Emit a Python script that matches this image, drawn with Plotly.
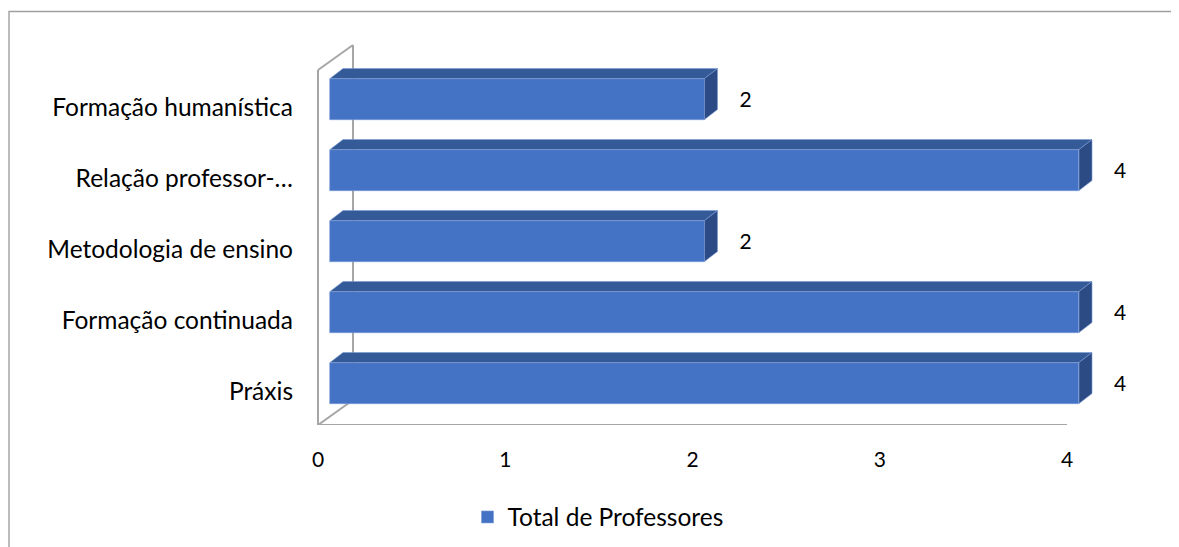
import plotly.graph_objects as go

# ---- data ----
categories = ["Práxis", "Formação continuada", "Metodologia de ensino",
              "Relação professor-…", "Formação humanística"]
values = [4, 4, 2, 4, 2]
series_name = "Total de Professores"
x_ticks = [0, 1, 2, 3, 4]

# ---- geometry (screen pixels -> data units) ----
OFF = 8                      # page body margin
W, H = 1179 - OFF, 547 - OFF
PX_PER_X = 187.25
PX_PER_Y = 71.0
x0_px = 318                  # value 0 at floor front (screen px)
plot_l, plot_r = 300, 1179   # screen px
plot_t, plot_b = 40, 425
cat0_px = 383

x_range = [(plot_l - x0_px) / PX_PER_X, (plot_r - x0_px) / PX_PER_X]
y_range = [-(plot_b - cat0_px) / PX_PER_Y, (cat0_px - plot_t) / PX_PER_Y]

front_dx = 12 / PX_PER_X
depth_dx = 13 / PX_PER_X
depth_dy = 10 / PX_PER_Y
bar_h = 41 / PX_PER_Y
wall_dx = 35 / PX_PER_X
wall_dy = 25 / PX_PER_Y

ypos = list(range(len(categories)))

FRONT = "#4472C4"
TOP = "#345A98"
SIDE = "#2C4B84"
EDGE = "#7A9BD6"
GRID = "#A6A6A6"
FONT = "Lato"

fig = go.Figure()

fig.add_trace(go.Bar(
    y=ypos, x=values, base=[front_dx] * len(values), orientation="h",
    width=bar_h, marker=dict(color=FRONT, line=dict(color=EDGE, width=0.6)),
    name=series_name, showlegend=True, hoverinfo="skip"))

tx, ty, sx, sy = [], [], [], []
for yc, v in zip(ypos, values):
    t = yc + bar_h / 2
    b = yc - bar_h / 2
    x1 = front_dx + v
    tx += [front_dx, x1, x1 + depth_dx, front_dx + depth_dx, front_dx, None]
    ty += [t, t, t + depth_dy, t + depth_dy, t, None]
    sx += [x1, x1 + depth_dx, x1 + depth_dx, x1, x1, None]
    sy += [b, b + depth_dy, t + depth_dy, t, b, None]

fig.add_trace(go.Scatter(x=tx, y=ty, fill="toself", fillcolor=TOP, mode="lines",
                         line=dict(color=EDGE, width=0.6), showlegend=False,
                         hoverinfo="skip"))
fig.add_trace(go.Scatter(x=sx, y=sy, fill="toself", fillcolor=SIDE, mode="lines",
                         line=dict(color=EDGE, width=0.6), showlegend=False,
                         hoverinfo="skip"))

# data labels
fig.add_trace(go.Scatter(
    x=[front_dx + v + depth_dx + 28 / PX_PER_X for v in values],
    y=[yc - 0.045 for yc in ypos], mode="text",
    text=[str(v) for v in values],
    textfont=dict(family=FONT, size=21, color="#000000"),
    textposition="middle center", showlegend=False, hoverinfo="skip",
    cliponaxis=False))

# walls (axis decoration)
ymin = y_range[0]
wall_top = ymin + (425 - 70) / PX_PER_Y
xmax = max(x_ticks)
shapes = [
    dict(type="line", xref="x", yref="y", x0=0, x1=0, y0=ymin, y1=wall_top),
    dict(type="line", xref="x", yref="y", x0=0, x1=wall_dx, y0=wall_top, y1=wall_top + wall_dy),
    dict(type="line", xref="x", yref="y", x0=wall_dx, x1=wall_dx, y0=ymin + wall_dy, y1=wall_top + wall_dy),
    dict(type="line", xref="x", yref="y", x0=0, x1=wall_dx, y0=ymin, y1=ymin + wall_dy),
    dict(type="line", xref="x", yref="y", x0=0, x1=xmax, y0=ymin, y1=ymin),
]
for s in shapes:
    s["line"] = dict(color=GRID, width=2)
    s["layer"] = "below"
pw, ph = plot_r - plot_l, plot_b - plot_t
shapes.append(dict(type="rect", xref="paper", yref="paper",
                   x0=(OFF + 1 - plot_l) / pw, x1=(1200 - plot_l) / pw,
                   y0=(plot_b - 570) / ph, y1=(plot_b - 11.5) / ph,
                   line=dict(color="#A0A0A0", width=1.4), layer="below"))

fig.update_layout(
    width=W, height=H,
    margin=dict(l=plot_l - OFF, r=0, t=plot_t - OFF, b=H - (plot_b - OFF)),
    paper_bgcolor="white", plot_bgcolor="rgba(0,0,0,0)",
    font=dict(family=FONT, size=24, color="#000000"),
    shapes=shapes, bargap=0,
    xaxis=dict(range=x_range, tickvals=x_ticks, ticktext=[str(t) for t in x_ticks],
               showgrid=False, zeroline=False, showline=False,
               ticks="", ticklabelstandoff=20, fixedrange=True,
               tickfont=dict(family=FONT, size=21)),
    yaxis=dict(range=y_range, tickvals=[p - 0.113 for p in ypos], ticktext=categories,
               showgrid=False, zeroline=False, showline=False, ticks="",
               ticklabelstandoff=6, fixedrange=True,
               tickfont=dict(family=FONT, size=24.5)),
    legend=dict(orientation="h", xref="container", yref="container",
                x=(598 - OFF) / W, y=1 - (517 - OFF) / H,
                xanchor="center", yanchor="middle",
                font=dict(family=FONT, size=24.5), itemwidth=30),
    showlegend=True,
)

fig.write_html("out.html")
